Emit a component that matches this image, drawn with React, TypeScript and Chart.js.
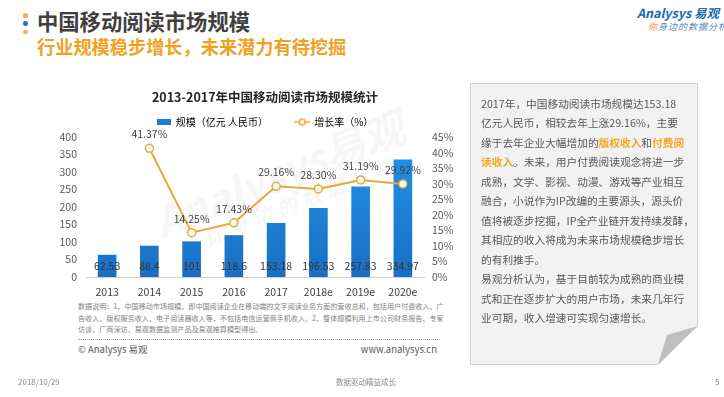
import React, { useEffect, useRef } from "react";
import { Chart, registerables } from "chart.js";

Chart.register(...registerables);

const FONT = '"Microsoft YaHei","Noto Sans CJK SC","Noto Sans",sans-serif';

const chartTitle = "2013-2017年中国移动阅读市场规模统计";
const categories = ["2013", "2014", "2015", "2016", "2017", "2018e", "2019e", "2020e"];
const marketSize = [62.53, 88.4, 101, 118.6, 153.18, 196.53, 257.83, 334.97];
const growthRate: (number | null)[] = [null, 41.37, 14.25, 17.43, 29.16, 28.3, 31.19, 29.92];
const seriesNames = ["规模（亿元 人民币）", "增长率（%）"];
const leftAxis = { min: 0, max: 400, step: 50 };
const rightAxis = { min: 0, max: 45, step: 5 };

const BLUE_TOP = "#2196EA";
const BLUE_BOTTOM = "#1A6FC4";
const ORANGE = "#E9A93C";

function makeMark(w: number, h: number, draw: (c: CanvasRenderingContext2D) => void) {
  const c = document.createElement("canvas");
  c.width = w;
  c.height = h;
  const ctx = c.getContext("2d");
  if (ctx) draw(ctx);
  return c;
}

const valueLabels = {
  id: "valueLabels",
  afterDatasetsDraw(chart: any) {
    const { ctx, chartArea } = chart;
    ctx.save();
    ctx.textAlign = "center";
    ctx.textBaseline = "middle";
    ctx.font = `10.5px ${FONT}`;
    ctx.fillStyle = "#333333";
    chart.getDatasetMeta(0).data.forEach((el: any, i: number) => {
      ctx.fillText(String(marketSize[i]), el.x, chartArea.bottom - 11);
    });
    ctx.fillStyle = "#404040";
    chart.getDatasetMeta(1).data.forEach((el: any, i: number) => {
      const v = growthRate[i];
      if (v == null) return;
      ctx.fillText(v.toFixed(2) + "%", el.x, el.y - 14);
    });
    ctx.restore();
  },
};

function MarketChart() {
  const ref = useRef<HTMLCanvasElement | null>(null);
  useEffect(() => {
    if (!ref.current) return;
    const barMark = makeMark(14, 6, (c) => {
      c.fillStyle = "#1C80D4";
      c.fillRect(0, 0, 14, 6);
    });
    const lineMark = makeMark(16, 9, (c) => {
      c.strokeStyle = ORANGE;
      c.lineWidth = 1.5;
      c.beginPath();
      c.moveTo(0, 4.5);
      c.lineTo(16, 4.5);
      c.stroke();
      c.beginPath();
      c.arc(8, 4.5, 3, 0, Math.PI * 2);
      c.fillStyle = "#ffffff";
      c.fill();
      c.stroke();
    });
    const tickFont = { family: FONT, size: 10.5 };
    const chart = new Chart(ref.current, {
      type: "bar",
      data: {
        labels: categories,
        datasets: [
          {
            type: "bar",
            label: seriesNames[0],
            data: marketSize,
            yAxisID: "y",
            barThickness: 18,
            order: 2,
            backgroundColor: (c: any) => {
              const a = c.chart.chartArea;
              if (!a) return BLUE_TOP;
              const g = c.chart.ctx.createLinearGradient(0, a.top, 0, a.bottom);
              g.addColorStop(0, BLUE_TOP);
              g.addColorStop(1, BLUE_BOTTOM);
              return g;
            },
          },
          {
            type: "line",
            label: seriesNames[1],
            data: growthRate,
            yAxisID: "y1",
            order: 1,
            borderColor: ORANGE,
            borderWidth: 2,
            tension: 0,
            pointRadius: 4,
            pointBorderWidth: 1.5,
            pointBackgroundColor: "#FFFDF3",
            pointBorderColor: ORANGE,
          },
        ] as any,
      },
      options: {
        animation: false,
        responsive: true,
        maintainAspectRatio: false,
        layout: { padding: 0 },
        plugins: {
          title: {
            display: true,
            text: chartTitle,
            color: "#262626",
            font: { family: FONT, size: 12.5, weight: "bold" },
            padding: { top: 4.5, bottom: 2.5 },
          },
          legend: {
            display: true,
            labels: {
              color: "#595959",
              font: { family: FONT, size: 10 },
              usePointStyle: true,
              pointStyleWidth: 14,
              padding: 10,
              generateLabels: () => [
                {
                  text: seriesNames[0] + "\u3000\u3000 ",
                  pointStyle: barMark,
                  fillStyle: "#1C80D4",
                  strokeStyle: "transparent",
                  lineWidth: 0,
                  hidden: false,
                  datasetIndex: 0,
                } as any,
                {
                  text: seriesNames[1],
                  pointStyle: lineMark,
                  fillStyle: "#ffffff",
                  strokeStyle: ORANGE,
                  lineWidth: 0,
                  hidden: false,
                  datasetIndex: 1,
                } as any,
              ],
            },
          },
          tooltip: { enabled: false },
        },
        scales: {
          x: {
            grid: { display: false },
            border: { display: true, color: "#CFCFCF", width: 1 },
            ticks: { color: "#404040", font: tickFont, padding: 1 },
            afterFit: (s: any) => {
              s.height = 23;
            },
          },
          y: {
            position: "left",
            min: leftAxis.min,
            max: leftAxis.max,
            grid: { display: false, drawTicks: false },
            border: { display: false },
            ticks: { stepSize: leftAxis.step, autoSkip: false, color: "#595959", font: tickFont, padding: 9 },
            afterFit: (s: any) => {
              s.width = 56;
            },
          },
          y1: {
            position: "right",
            min: rightAxis.min,
            max: rightAxis.max,
            grid: { display: false, drawTicks: false },
            border: { display: false },
            ticks: {
              stepSize: rightAxis.step,
              autoSkip: false,
              color: "#595959",
              font: tickFont,
              padding: 8,
              callback: (v: any) => v + "%",
            },
            afterFit: (s: any) => {
              s.width = 76;
            },
          },
        },
      } as any,
      plugins: [valueLabels],
    });
    return () => chart.destroy();
  }, []);
  return (
    <div style={{ position: "absolute", left: 30, top: 85, width: 470, height: 215 }}>
      <canvas ref={ref} />
    </div>
  );
}

const hl: React.CSSProperties = { color: "#F5A623", fontWeight: "bold" };

export default function App() {
  const abs = (s: React.CSSProperties): React.CSSProperties => ({ position: "absolute", whiteSpace: "nowrap", ...s });
  const lineStyle: React.CSSProperties = { height: 19.5, lineHeight: "19.5px", whiteSpace: "nowrap" };
  return (
    <div
      style={{
        position: "fixed",
        left: 0,
        top: 0,
        width: 724,
        height: 397,
        background: "#ffffff",
        overflow: "hidden",
        fontFamily: FONT,
      }}
    >
      {/* title dots */}
      <div style={abs({ left: 23, top: 13, width: 4.5, height: 4.5, borderRadius: "50%", background: "#F3B13F" })} />
      <div style={abs({ left: 23, top: 21, width: 4.5, height: 4.5, borderRadius: "50%", background: "#2E75B6" })} />
      <div style={abs({ left: 23, top: 29.5, width: 4.5, height: 4.5, borderRadius: "50%", background: "#F3B13F" })} />
      <div style={abs({ left: 37, top: 9, fontSize: 21.3, lineHeight: "24px", fontWeight: "bold", color: "#404040" })}>
        中国移动阅读市场规模
      </div>
      <div style={abs({ left: 37, top: 36, fontSize: 18.2, lineHeight: "20px", fontWeight: "bold", color: "#F0A21E" })}>
        行业规模稳步增长，未来潜力有待挖掘
      </div>

      {/* logo */}
      <div style={abs({ left: 637, top: 5, fontSize: 12.5, lineHeight: "16px", color: "#2468B0", fontStyle: "italic", fontWeight: "bold" })}>
        Analysys 易观
      </div>
      <div style={abs({ left: 648, top: 21, fontSize: 9, lineHeight: "12px", color: "#5B86C2", fontStyle: "italic", letterSpacing: 1 })}>
        <span style={{ color: "#E8892B" }}>你</span>身边的数据分析
      </div>

      <MarketChart />

      {/* watermark */}
      <div
        style={abs({
          left: 150,
          top: 150,
          fontSize: 42,
          lineHeight: "44px",
          color: "rgba(170,170,170,0.10)",
          fontStyle: "italic",
          fontWeight: "bold",
          transform: "rotate(-22deg)",
          transformOrigin: "center",
          pointerEvents: "none",
        })}
      >
        Analysys易观
        <div style={{ fontSize: 20, lineHeight: "24px", marginLeft: 40, letterSpacing: 6 }}>你身边的数据分析</div>
      </div>

      {/* footnote */}
      <div style={abs({ left: 78, top: 301, fontSize: 7.1, lineHeight: "11.5px", color: "#7F7F7F" })}>
        <div>数据说明：1、中国移动市场规模，即中国阅读企业在移动端的文字阅读业务方面的营收总和，包括用户付费收入、广</div>
        <div>告收入、版权服务收入、电子阅读器收入等，不包括电信运营商手机收入。2、整体规模利用上市公司财务报告、专家</div>
        <div>访谈、厂商深访、易观数据监测产品及易观推算模型得出。</div>
      </div>
      <div style={abs({ left: 78, top: 339, width: 362, borderTop: "1px dotted #A6A6A6" })} />
      <div style={abs({ left: 78, top: 343, fontSize: 9.5, lineHeight: "12px", color: "#595959" })}>© Analysys 易观</div>
      <div style={abs({ left: 337, top: 343, width: 100, textAlign: "right", fontSize: 9.5, lineHeight: "12px", color: "#595959" })}>
        www.analysys.cn
      </div>

      {/* right text panel */}
      <svg width={724} height={397} style={{ position: "absolute", left: 0, top: 0 }}>
        <polygon points="470.5,83.5 697.5,83.5 697.5,326 658,364.5 470.5,364.5" fill="#F2F2F2" stroke="#D4D4D4" strokeWidth={1} />
        <polygon points="697.5,326 667,335 658,364.5" fill="#BFBFBF" />
      </svg>
      <div style={abs({ left: 481, top: 93.5, fontSize: 10.7, color: "#595959" })}>
        <div style={lineStyle}>2017年，中国移动阅读市场规模达153.18</div>
        <div style={lineStyle}>亿元人民币，相较去年上涨29.16%，主要</div>
        <div style={lineStyle}>
          缘于去年企业大幅增加的<span style={hl}>版权收入</span>和<span style={hl}>付费阅</span>
        </div>
        <div style={lineStyle}>
          <span style={hl}>读收入</span>。未来，用户付费阅读观念将进一步
        </div>
        <div style={lineStyle}>成熟，文学、影视、动漫、游戏等产业相互</div>
        <div style={lineStyle}>融合，小说作为IP改编的主要源头，源头价</div>
        <div style={lineStyle}>值将被逐步挖掘，IP全产业链开发持续发酵，</div>
        <div style={lineStyle}>其相应的收入将成为未来市场规模稳步增长</div>
        <div style={lineStyle}>的有利推手。</div>
        <div style={lineStyle}>易观分析认为，基于目前较为成熟的商业模</div>
        <div style={lineStyle}>式和正在逐步扩大的用户市场，未来几年行</div>
        <div style={lineStyle}>业可期，收入增速可实现匀速增长。</div>
      </div>

      {/* footer */}
      <div style={abs({ left: 18, top: 376, fontSize: 8, lineHeight: "12px", color: "#8C8C8C" })}>2018/10/29</div>
      <div style={abs({ left: 316, top: 376, width: 100, textAlign: "center", fontSize: 7.5, lineHeight: "12px", color: "#8C8C8C" })}>
        数据驱动精益成长
      </div>
      <div style={abs({ left: 715, top: 376, fontSize: 8, lineHeight: "12px", color: "#8C8C8C" })}>5</div>
    </div>
  );
}
